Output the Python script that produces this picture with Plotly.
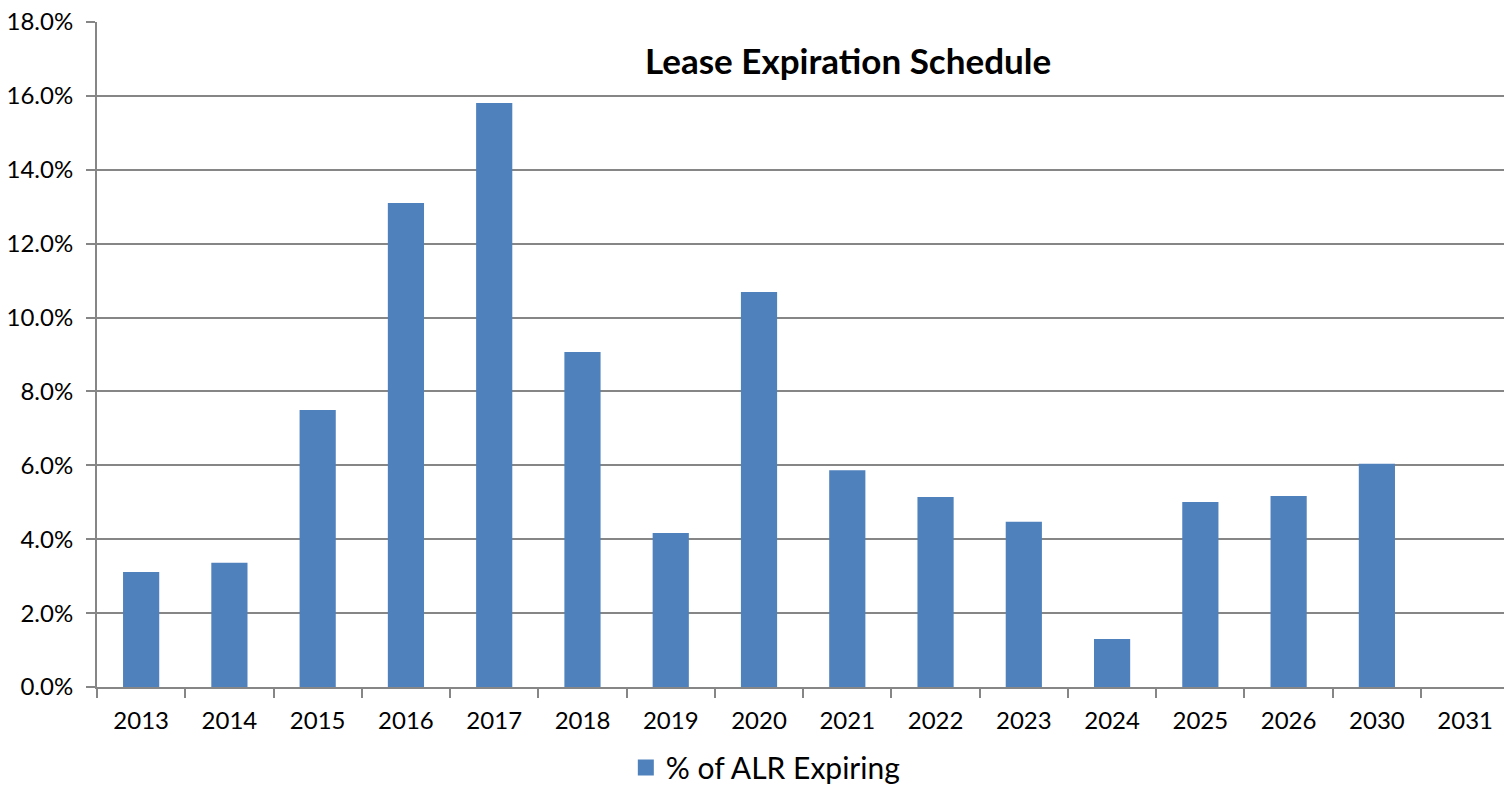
import plotly.graph_objects as go

years = ["2013", "2014", "2015", "2016", "2017", "2018", "2019", "2020",
         "2021", "2022", "2023", "2024", "2025", "2026", "2030", "2031"]
pct_alr_expiring = [3.11, 3.36, 7.50, 13.10, 15.81, 9.07, 4.17, 10.69,
                    5.87, 5.14, 4.47, 1.30, 5.01, 5.17, 6.04, 0.0]

font_family = "Lato"
grey = "#868686"
bar_blue = "#4F81BD"

fig = go.Figure()
fig.add_trace(go.Bar(
    x=years,
    y=pct_alr_expiring,
    name="% of ALR Expiring",
    marker=dict(color=bar_blue, line=dict(width=0)),
    showlegend=False,
))
# legend entry with a bigger square, like the excel legend key
fig.add_trace(go.Scatter(
    x=[None], y=[None],
    mode="markers",
    name="% of ALR Expiring",
    marker=dict(symbol="square", size=18, color=bar_blue),
))

fig.update_layout(
    width=1504,
    height=790,
    # autoexpand off so the legend doesn't squeeze the plot area
    margin=dict(l=97, r=0, t=22, b=103, autoexpand=False),
    plot_bgcolor="white",
    paper_bgcolor="white",
    bargap=0.59,
    font=dict(family=font_family, color="black", size=24),
    showlegend=True,
    legend=dict(
        orientation="h",
        x=0.475, xanchor="center",
        y=-0.121, yanchor="middle",
        font=dict(size=30),
        itemwidth=30,
    ),
    annotations=[dict(
        text="<b>Lease Expiration Schedule</b>",
        xref="paper", yref="paper",
        x=0.534, y=0.943,
        xanchor="center", yanchor="middle",
        showarrow=False,
        font=dict(size=35, family=font_family),
    )],
)

fig.update_xaxes(
    type="category",
    range=[-0.5, 15.44],
    automargin=False,
    showline=True, linecolor=grey, linewidth=2,
    ticks="outside", tickson="boundaries", ticklen=9, tickcolor=grey, tickwidth=2,
    ticklabelstandoff=11,
    showgrid=False,
)
fig.update_yaxes(
    range=[0, 18], dtick=2,
    automargin=False,
    tickformat=".1f", ticksuffix="%",
    showline=True, linecolor=grey, linewidth=2,
    ticks="outside", ticklen=9, tickcolor=grey, tickwidth=2,
    ticklabelstandoff=8,
    showgrid=True, gridcolor=grey, gridwidth=1.5,
    zeroline=False,
)

# no page margin so the figure sits exactly in the window
fig.write_html("out.html", post_script="document.body.style.margin = '0';",
               config={"displayModeBar": False})
